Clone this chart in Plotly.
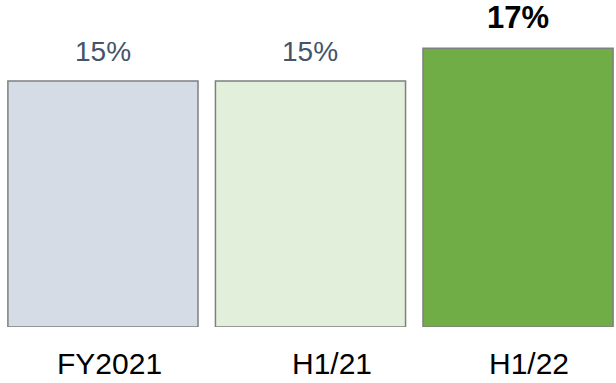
import plotly.graph_objects as go

categories = ["FY2021", "H1/21", "H1/22"]
values = [15, 15, 17]
value_labels = ["15%", "15%", "17%"]
bar_colors = ["#D6DCE5", "#E2EFDA", "#70AD47"]
label_colors = ["#44546A", "#44546A", "#000000"]
label_sizes = [28, 28, 31]
label_bold = [False, False, True]
label_yshift = [13, 13, 12]
cat_xshift = [7, 22, 11]

fig = go.Figure()
fig.add_trace(go.Bar(
    x=categories, y=values,
    marker=dict(color=bar_colors, line=dict(color="#7F7F7F", width=1.5)),
    width=0.916,
    hoverinfo="skip",
))

for i, (c, v, t) in enumerate(zip(categories, values, value_labels)):
    fig.add_annotation(
        x=c, y=v, xref="x", yref="y",
        text=f"<b>{t}</b>" if label_bold[i] else t,
        showarrow=False, yanchor="bottom", yshift=label_yshift[i], borderpad=0,
        font=dict(family="Liberation Sans, Arial", size=label_sizes[i], color=label_colors[i]),
    )
    fig.add_annotation(
        x=c, y=0, xref="x", yref="paper",
        text=c, showarrow=False, yanchor="top", yshift=-19, xshift=cat_xshift[i], borderpad=0,
        font=dict(family="Liberation Sans, Arial", size=30, color="#000000"),
    )

fig.update_layout(
    width=616, height=383,
    margin=dict(l=0, r=0, t=0, b=56),
    plot_bgcolor="white", paper_bgcolor="white",
    showlegend=False,
    xaxis=dict(range=[-0.496, 2.472], showticklabels=False, showgrid=False,
               zeroline=False, showline=False, ticks=""),
    yaxis=dict(range=[0, 327 / 16.4], visible=False, showgrid=False, zeroline=False),
)

fig.write_html("out.html")
